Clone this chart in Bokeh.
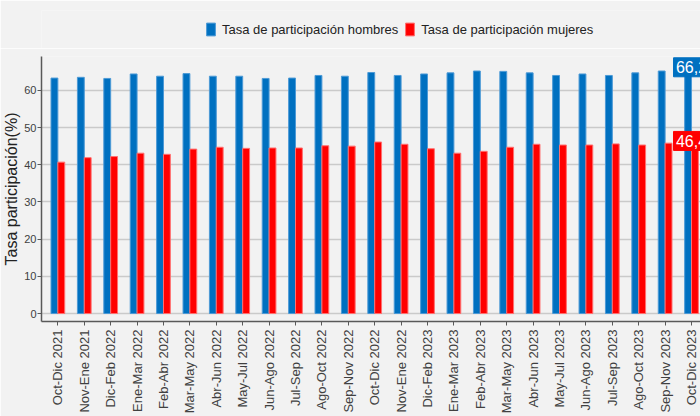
from bokeh.plotting import figure
from bokeh.layouts import column
from bokeh.models import (Range1d, FixedTicker, Legend, LegendItem,
                          ColumnDataSource)
from bokeh.embed import file_html
from bokeh.resources import INLINE
from bokeh.transform import dodge
from bokeh.core.properties import value

periodos = ["Oct-Dic 2021", "Nov-Ene 2021", "Dic-Feb 2022", "Ene-Mar 2022",
            "Feb-Abr 2022", "Mar-May 2022", "Abr-Jun 2022", "May-Jul 2022",
            "Jun-Ago 2022", "Jul-Sep 2022", "Ago-Oct 2022", "Sep-Nov 2022",
            "Oct-Dic 2022", "Nov-Ene 2022", "Dic-Feb 2023", "Ene-Mar 2023",
            "Feb-Abr 2023", "Mar-May 2023", "Abr-Jun 2023", "May-Jul 2023",
            "Jun-Ago 2023", "Jul-Sep 2023", "Ago-Oct 2023", "Sep-Nov 2023",
            "Oct-Dic 2023"]
hombres = [63.3, 63.5, 63.2, 64.4, 63.8, 64.5, 63.8, 63.8, 63.2, 63.3, 64.0,
           63.8, 64.8, 64.0, 64.4, 64.7, 65.2, 65.1, 64.7, 64.0, 64.4, 64.0,
           64.7, 65.2, 66.2]
mujeres = [40.7, 41.9, 42.2, 43.1, 42.8, 44.2, 44.7, 44.4, 44.5, 44.5, 45.1,
           45.0, 46.1, 45.5, 44.3, 43.1, 43.6, 44.7, 45.5, 45.3, 45.3, 45.6,
           45.3, 45.8, 46.4]
y_ticks = [0, 10, 20, 30, 40, 50, 60]
serie_h = "Tasa de participación hombres"
serie_m = "Tasa de participación mujeres"

idx = list(range(len(periodos)))
src = ColumnDataSource(dict(x=idx, h=hombres, m=mujeres))

BG = "#f2f2f2"
BLUE = "#0070c0"
RED = "#ff0000"
FONT = "Liberation Sans"
bw = 0.26

# ---- legend strip on top (its bars fall outside its own y range) ----
lg = figure(width=700, height=48, output_backend="svg", toolbar_location=None,
            x_axis_location=None, y_axis_location=None,
            x_range=Range1d(-0.62, 24.34), y_range=Range1d(1000, 1001),
            background_fill_color=BG, border_fill_color=BG,
            min_border_left=0, min_border_right=0, min_border_top=10,
            min_border_bottom=0)
lg.outline_line_color = None
lg.grid.visible = False
lh = lg.vbar(x="x", top="h", width=bw, source=src,
             fill_color=BLUE, line_color="#4d9ad6")
lm = lg.vbar(x="x", top="m", width=bw, source=src,
             fill_color=RED, line_color="#ff7070")
legend = Legend(items=[LegendItem(label=serie_h, renderers=[lh]),
                       LegendItem(label=serie_m, renderers=[lm])],
                orientation="horizontal", location="center_left",
                label_text_font=FONT, label_text_font_size="13px",
                label_text_color="#222222", glyph_width=11, glyph_height=16,
                label_standoff=6, spacing=6, padding=0, margin=164,
                background_fill_alpha=0, border_line_color=None)
lg.add_layout(legend)

# ---- main chart ----
p = figure(width=700, height=368, output_backend="svg", toolbar_location=None,
           x_range=Range1d(-0.62, 24.34), y_range=Range1d(-2.15, 69.1),
           background_fill_color=BG, border_fill_color=BG,
           min_border_left=31, min_border_right=0, min_border_top=8)
p.outline_line_color = None

p.vbar(x=dodge("x", -bw / 2), top="h", width=bw, source=src,
       fill_color=BLUE, line_color="#4d9ad6", line_width=1)
p.vbar(x=dodge("x", bw / 2), top="m", width=bw, source=src,
       fill_color=RED, line_color="#ff7070", line_width=1)

p.xaxis.ticker = FixedTicker(ticks=idx)
p.xaxis.major_label_overrides = {i: s for i, s in enumerate(periodos)}
p.xaxis.major_label_orientation = 1.5708
p.xaxis.major_label_text_font = FONT
p.xaxis.major_label_text_font_size = "13px"
p.xaxis.major_label_text_color = "#404040"
p.xaxis.major_label_standoff = 4
p.xaxis.minor_tick_line_color = None
p.xaxis.major_tick_in = 0
p.xaxis.major_tick_out = 4
p.xaxis.axis_line_color = "#595959"
p.xaxis.axis_line_width = 1.5
p.xaxis.major_tick_line_color = "#595959"

p.yaxis.ticker = FixedTicker(ticks=y_ticks)
p.yaxis.axis_label = "Tasa participación(%)"
p.yaxis.axis_label_text_font = FONT
p.yaxis.axis_label_text_font_size = "16px"
p.yaxis.axis_label_text_font_style = "normal"
p.yaxis.axis_label_text_color = "#222222"
p.yaxis.axis_label_standoff = 1
p.yaxis.major_label_text_font = FONT
p.yaxis.major_label_text_font_size = "11px"
p.yaxis.major_label_text_color = "#404040"
p.yaxis.major_label_standoff = 1
p.yaxis.minor_tick_line_color = None
p.yaxis.major_tick_in = 0
p.yaxis.major_tick_out = 4
p.yaxis.axis_line_color = "#595959"
p.yaxis.axis_line_width = 1.5
p.yaxis.major_tick_line_color = "#595959"

p.xgrid.grid_line_color = None
p.ygrid.grid_line_color = "#cacaca"
p.ygrid.grid_line_width = 1.5

# data labels on last period (boxes + text as glyphs)
last = len(periodos) - 1
lab_src = ColumnDataSource(dict(
    x=[last, last], y=[hombres[last], mujeres[last]],
    t=[f"{v:.1f}".replace(".", ",") for v in (hombres[last], mujeres[last])],
    c=[BLUE, RED]))
p.rect(x="x", y="y", width=36, height=19, width_units="screen",
       height_units="screen", fill_color="c", line_color="c", source=lab_src)
p.text(x="x", y="y", text="t", text_align="center", text_baseline="middle",
       text_font=value(FONT), text_font_size="16px", text_color="white",
       source=lab_src)

layout = column(lg, p, spacing=0)
open("out.html", "w").write(file_html(layout, INLINE))
